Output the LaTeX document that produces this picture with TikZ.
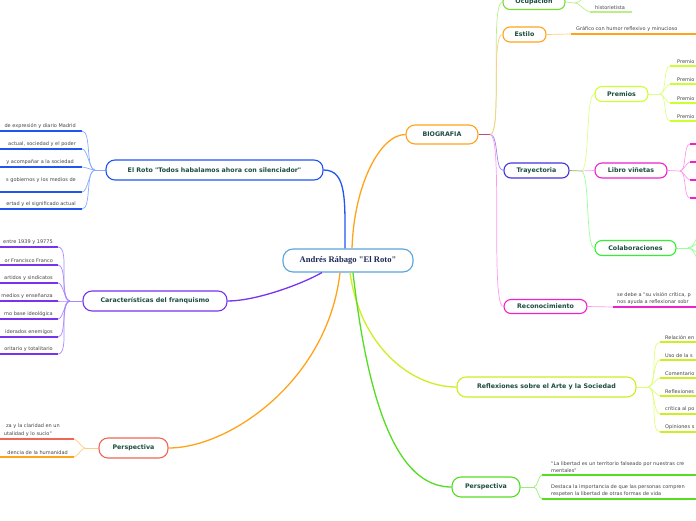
\documentclass[tikz,border=0pt]{standalone}
\usepackage{fontspec}
\newfontfamily\nodefont{DejaVu Sans}
\newfontfamily\cenfont{Liberation Serif}
\usetikzlibrary{calc}
\definecolor{ntext}{HTML}{1B4D3E}
\definecolor{cntext}{HTML}{1F2A55}
\definecolor{ltext}{HTML}{444444}
\definecolor{cCen}{HTML}{5AA5DC}
\definecolor{cOr}{HTML}{FFA31A}
\definecolor{cOcup}{HTML}{77DD33}
\definecolor{cTray}{HTML}{4433DD}
\definecolor{cPrem}{HTML}{CCFF33}
\definecolor{cMag}{HTML}{EE22CC}
\definecolor{cColab}{HTML}{33EE33}
\definecolor{cRoto}{HTML}{2255EE}
\definecolor{cFranq}{HTML}{7733EE}
\definecolor{cRed}{HTML}{EE6655}
\definecolor{cRefl}{HTML}{CCEE22}
\definecolor{cPersR}{HTML}{55DD22}
\definecolor{lOr}{HTML}{FFCC80}
\definecolor{lOcup}{HTML}{BBEE88}
\definecolor{lTray}{HTML}{9988EE}
\definecolor{lMag}{HTML}{FF99EE}
\definecolor{lPrem}{HTML}{DDFF88}
\definecolor{lColab}{HTML}{99FF99}
\definecolor{lRoto}{HTML}{88AAFF}
\definecolor{lFranq}{HTML}{AA88FF}
\definecolor{lRefl}{HTML}{DDFF77}
\definecolor{lPersR}{HTML}{99EE77}
\definecolor{lOlive}{HTML}{99AA55}
\definecolor{lBio}{HTML}{AA5588}
\begin{document}
\begin{tikzpicture}[x=1pt,y=-1pt,
  base/.style={draw, fill=white, line width=1.1pt, inner sep=0pt, text=ntext,
    font=\nodefont\bfseries\fontsize{6.3}{7.5}\selectfont},
  mn/.style={base, rounded corners=9pt, minimum height=20pt},
  sn/.style={base, rounded corners=7pt, minimum height=15pt},
  cn/.style={base, rounded corners=10pt, minimum height=23pt, text=cntext,
    font=\cenfont\bfseries\fontsize{8.6}{10}\selectfont},
  ltR/.style={inner sep=0pt, text=ltext, font=\nodefont\fontsize{5}{7}\selectfont, align=left, anchor=south west},
  ltL/.style={ltR, anchor=south east},
  con/.style={line width=1.3pt},
  lc/.style={line width=0.7pt},
  ul/.style={line width=1.5pt}]
\clip (0,0) rectangle (696,520);

% ---------- nodes ----------
\node[cn, draw=cCen, minimum width=130pt] (cen) at (348,260.5) {Andrés Rábago "El Roto"};
\node[mn, draw=cOr, minimum width=72pt, minimum height=19pt] (bio) at (442,134.5) {BIOGRAFIA};
\node[sn, draw=cOcup, minimum width=62pt] (ocup) at (534,2) {Ocupación};
\node[sn, draw=cOr, minimum width=43pt] (estilo) at (524.5,34.5) {Estilo};
\node[sn, draw=cTray, minimum width=65pt] (tray) at (536.5,170.5) {Trayectoria};
\node[sn, draw=cMag, minimum width=83pt, minimum height=14pt] (recon) at (545.5,306.5) {Reconocimiento};
\node[sn, draw=cPrem, minimum width=53pt] (prem) at (621.5,94) {Premios};
\node[sn, draw=cMag, minimum width=72pt] (libro) at (631,170.5) {Libro viñetas};
\node[sn, draw=cColab, minimum width=81pt] (colab) at (635.5,248) {Colaboraciones};
\node[mn, draw=cRoto, minimum width=217pt] (roto) at (214.5,170) {El Roto "Todos habalamos ahora con silenciador"};
\node[mn, draw=cFranq, minimum width=144pt] (franq) at (155,301) {Características del franquismo};
\node[mn, draw=cRed, minimum width=69pt] (persl) at (133.5,448) {Perspectiva};
\node[mn, draw=cRefl, minimum width=179pt] (refl) at (546.5,387) {Reflexiones sobre el Arte y la Sociedad};
\node[mn, draw=cPersR, minimum width=68pt] (persr) at (486,487) {Perspectiva};

% ---------- main connectors ----------
\draw[con, cRoto] ($(cen.north)+(-3,0)$) .. controls (345,200) and (347,170) .. (roto.east);
\draw[con, cOr] ($(cen.north)+(4,0)$) .. controls (354,185) and (380,134.5) .. (bio.west);
\draw[con, cFranq] ($(cen.south)+(-26,0)$) .. controls (300,285) and (255,301) .. (franq.east);
\draw[con, cOr] ($(cen.south)+(-8,0)$) .. controls (328,380) and (230,448) .. (persl.east);
\draw[con, cRefl] ($(cen.south)+(2,0)$) .. controls (360,345) and (410,387) .. (refl.west);
\draw[con, cPersR] ($(cen.south)+(5,0)$) .. controls (372,440) and (410,487) .. (persr.west);

% ---------- BIOGRAFIA ----------
\coordinate (bj) at (490,134.5);
\draw[lc, lBio] (bio.east) -- (bj);
\draw[lc, lOcup] (bj) to[out=0,in=180,looseness=0.25] (ocup.west);
\draw[lc, lOr] (bj) to[out=0,in=180,looseness=0.3] (estilo.west);
\draw[lc, lTray] (bj) to[out=0,in=180,looseness=0.6] (tray.west);
\draw[lc, lMag] (bj) to[out=0,in=180,looseness=0.2] (recon.west);

% Ocupacion
\coordinate (oj) at (575,3);
\coordinate (oa) at (590,12);
\coordinate (ob) at (632,12);
\coordinate (oc) at (605,-25);
\draw[lc, lOcup] (ocup.east) -- (oj);
\draw[lc, lOcup] (oj) to[out=0,in=180,looseness=0.6] (oa);
\draw[lc, lOcup] (oj) to[out=0,in=180,looseness=0.6] (oc);
\draw[ul, lOcup] (oa) -- (ob);
\node[ltR] (ot) at ($(oa)+(5,-2)$) {historietista};

% Estilo
\coordinate (ea) at (571,34);
\coordinate (eb) at (700,34);
\draw[lc, lOr] (estilo.east) -- (ea);
\draw[ul, cOr] (ea) -- (eb);
\node[ltR] (et) at ($(ea)+(5,-2)$) {Gráfico con humor reflexivo y minucioso};

% Trayectoria
\coordinate (tj) at (581,171);
\draw[lc, lOlive] (tray.east) -- (tj);
\draw[lc, lPrem] (tj) to[out=0,in=180,looseness=0.3] (prem.west);
\draw[lc, lMag] (tj) -- (libro.west);
\draw[lc, lColab] (tj) to[out=0,in=180,looseness=0.3] (colab.west);

% Premios
\coordinate (pj) at (660,94);
\draw[lc, lPrem] (prem.east) -- (pj);
\foreach \y [count=\i] in {66,84,103,121} {
  \coordinate (pa\i) at (670,\y);
  \coordinate (pb\i) at (700,\y);
  \draw[lc, lPrem] (pj) to[out=0,in=180,looseness=0.6] (pa\i);
  \draw[ul, cPrem] (pa\i) -- (pb\i);
  \node[ltR] (pt\i) at ($(pa\i)+(7,-2)$) {Premio};
}

% Libro vinetas
\coordinate (lj) at (680,171);
\draw[lc, lMag] (libro.east) -- (lj);
\foreach \y [count=\i] in {144,162,180,198} {
  \coordinate (la\i) at (690,\y);
  \coordinate (lb\i) at (700,\y);
  \draw[lc, lMag] (lj) to[out=0,in=180,looseness=0.6] (la\i);
  \draw[ul, cMag] (la\i) -- (lb\i);
}

% Colaboraciones
\coordinate (cj) at (688,248);
\draw[lc, lColab] (colab.east) -- (cj);
\foreach \y [count=\i] in {212,234,262,284} {
  \coordinate (ca\i) at (712,\y);
  \draw[lc, lColab] (cj) to[out=0,in=180,looseness=0.6] (ca\i);
}

% Reconocimiento
\coordinate (rca) at (613,307);
\coordinate (rcb) at (700,307);
\draw[lc, lMag] (recon.east) -- (rca);
\draw[ul, cMag] (rca) -- (rcb);
\node[ltR] (rct) at ($(rca)+(4,-2)$) {se debe a "su visión crítica, p\\nos ayuda a reflexionar sobr};

% ---------- El Roto ----------
\coordinate (rj) at (95,170);
\draw[lc, lRoto] (roto.west) -- (rj);
\foreach \y/\t [count=\i] in {{131/de expresión y diario Madrid},{149/actual, sociedad y el poder},{167/y acompañar a la sociedad},{192/s gobiernos y los medios de},{209/ertad y el significado actual}} {
  \coordinate (ra\i) at (82,\y);
  \coordinate (rb\i) at (-5,\y);
  \draw[lc, lRoto] (rj) to[out=180,in=0,looseness=0.6] (ra\i);
  \draw[ul, cRoto] (ra\i) -- (rb\i);
}
\node[ltL] (rt1) at (76,129) {de expresión y diario Madrid};
\node[ltL] (rt2) at (76,147) {actual, sociedad y el poder};
\node[ltL] (rt3) at (74,165) {y acompañar a la sociedad};
\node[ltL] (rt4) at (76,182.5) {s gobiernos y los medios de};
\node[ltL] (rt5) at (76,207) {ertad y el significado actual};

% ---------- Franquismo ----------
\coordinate (fj) at (70,301);
\draw[lc, lFranq] (franq.west) -- (fj);
\foreach \y/\t [count=\i] in {{247/entre 1939 y 19775},{265/or Francisco Franco},{283/artidos y sindicatos},{301/medios y enseñanza},{319/mo base ideológica},{337/iderados enemigos},{354/oritario y totalitario}} {
  \coordinate (fa\i) at (58,\y);
  \coordinate (fb\i) at (-5,\y);
  \draw[lc, lFranq] (fj) to[out=180,in=0,looseness=0.6] (fa\i);
  \draw[ul, cFranq] (fa\i) -- (fb\i);
  \node[ltL] (ft\i) at ($(fa\i)+(-5,-2)$) {\t};
}

% ---------- Perspectiva (left) ----------
\coordinate (plj) at (85,448);
\coordinate (pla1) at (74,439);
\coordinate (plb1) at (-5,439);
\coordinate (pla2) at (74,457);
\coordinate (plb2) at (-5,457);
\draw[lc, lOr] (persl.west) -- (plj);
\draw[lc, lOr] (plj) to[out=180,in=0,looseness=0.6] (pla1);
\draw[lc, lOr] (plj) to[out=180,in=0,looseness=0.6] (pla2);
\draw[ul, cRed] (pla1) -- (plb1);
\draw[ul, cOr] (pla2) -- (plb2);
\node[ltL] (plt1) at (60,429) {za y la claridad en un};
\node[ltL] (plt1b) at (52,436.5) {utalidad y lo sucio"};
\node[ltL] (plt2) at (68,455) {dencia de la humanidad};

% ---------- Reflexiones ----------
\coordinate (fxj) at (648,387);
\draw[lc, lRefl] (refl.east) -- (fxj);
\foreach \y/\t [count=\i] in {{342/Relación en},{360/Uso de la s},{378/Comentario},{396/Reflexiones},{414/crítica al po},{432/Opiniones s}} {
  \coordinate (xa\i) at (660,\y);
  \coordinate (xb\i) at (700,\y);
  \draw[lc, lRefl] (fxj) to[out=0,in=180,looseness=0.6] (xa\i);
  \draw[ul, cRefl] (xa\i) -- (xb\i);
  \node[ltR] (xt\i) at ($(xa\i)+(5,-2)$) {\t};
}

% ---------- Perspectiva (right) ----------
\coordinate (prj) at (534,487);
\coordinate (pra1) at (542,475);
\coordinate (prb1) at (700,475);
\coordinate (pra2) at (542,499);
\coordinate (prb2) at (700,499);
\draw[lc, lPersR] (persr.east) -- (prj);
\draw[lc, lPersR] (prj) to[out=0,in=180,looseness=0.6] (pra1);
\draw[lc, lPersR] (prj) to[out=0,in=180,looseness=0.6] (pra2);
\draw[ul, cPersR] (pra1) -- (prb1);
\draw[ul, cPersR] (pra2) -- (prb2);
\node[ltR] (prt1) at ($(pra1)+(9,-2)$) {"La libertad es un territorio falseado por nuestras cre\\mentales"};
\node[ltR] (prt2) at ($(pra2)+(9,-2)$) {Destaca la importancia de que las personas compren\\respeten la libertad de otras formas de vida};
\end{tikzpicture}
\end{document}
